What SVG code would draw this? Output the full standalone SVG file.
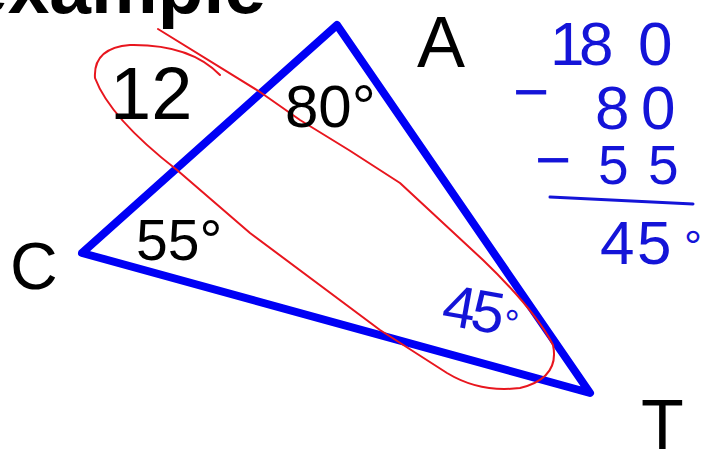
<svg xmlns="http://www.w3.org/2000/svg" width="707" height="453" viewBox="0 0 707 453">
  <style>
    .lbl { font-family: "Liberation Sans", Arial, sans-serif; fill: #000; }
    .hand { font-family: "Liberation Sans", Arial, sans-serif; fill: #1414d8; }
  </style>
  <rect width="707" height="453" fill="#fff"/>
  <text class="lbl" x="-34" y="13" font-size="76" font-weight="bold" textLength="300" lengthAdjust="spacingAndGlyphs">example</text>

  <g id="triangle">
    <polygon points="82,253 337,25 590,393" fill="none" stroke="#0000f5" stroke-width="8" stroke-linejoin="round"/>
  </g>

  <g id="ellipse-mark">
    <path d="M158,29 L260,92 L300,120 Q350,150 400,183 L483,260 Q535,310 553,345 Q560,378 520,388 Q480,393 447,373 L380,330 L250,233 L177,170 Q110,118 95,78 Q93,48 130,45 Q190,44 220,75" fill="none" stroke="#e8161e" stroke-width="2" stroke-linecap="round" stroke-linejoin="round"/>
  </g>

  <g id="labels">
    <text class="lbl" x="417" y="67" font-size="72">A</text>
    <text class="lbl" x="10" y="289" font-size="66">C</text>
    <text class="lbl" x="641" y="449" font-size="70">T</text>
    <text class="lbl" x="110" y="119" font-size="74">12</text>
    <text class="lbl" x="285" y="127" font-size="60">80°</text>
    <text class="lbl" x="136" y="260" font-size="57">55°</text>
  </g>

  <g id="calc">
    <text class="hand" font-size="62" y="65"><tspan x="550">1</tspan><tspan x="579">8</tspan><tspan x="638">0</tspan></text>
    <text class="hand" font-size="62" x="513" y="113">−</text>
    <text class="hand" font-size="62" y="129"><tspan x="595">8</tspan><tspan x="641">0</tspan></text>
    <text class="hand" font-size="62" x="535" y="181">−</text>
    <text class="hand" font-size="55" y="184"><tspan x="598">5</tspan><tspan x="648">5</tspan></text>
    <line x1="550" y1="197" x2="693" y2="204" stroke="#1414d8" stroke-width="3" stroke-linecap="round"/>
    <text class="hand" font-size="62" y="264"><tspan x="600">4</tspan><tspan x="637">5</tspan></text>
    <text class="hand" font-size="45" x="684" y="262">°</text>
  </g>

  <g id="angle-T">
    <text class="hand" font-size="59" transform="translate(440,324) rotate(10)"><tspan x="0">4</tspan><tspan x="29">5</tspan><tspan x="62" font-size="38">°</tspan></text>
  </g>
</svg>
